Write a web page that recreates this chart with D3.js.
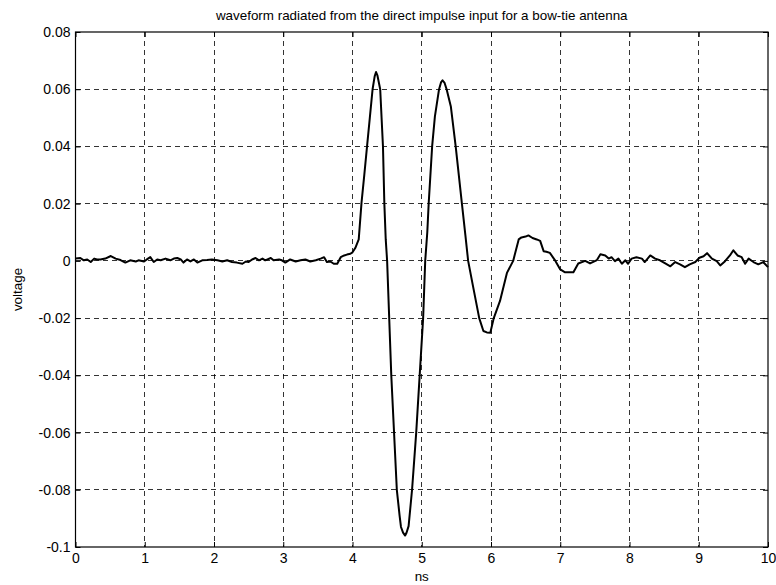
<!DOCTYPE html>
<html>
<head>
<meta charset="utf-8">
<script src="https://cdn.jsdelivr.net/npm/d3@7"></script>
<style>
  html, body { margin: 0; padding: 0; background: #fff; }
  svg { display: block; font-family: "Liberation Sans", Arial, Helvetica, sans-serif; }
</style>
</head>
<body>
<svg id="chart" width="776" height="585"></svg>
<script>
// Sample times (ns) and radiated voltage of the bow-tie antenna response
const timeNs = [
  0.00, 0.07, 0.12, 0.17, 0.22, 0.27, 0.31, 0.36, 0.43, 0.51, 0.58, 0.65, 0.72, 0.79, 0.87, 0.91, 0.99,
  1.03, 1.08, 1.13, 1.18, 1.23, 1.30, 1.37, 1.42, 1.47, 1.52, 1.56, 1.61, 1.66, 1.71, 1.76, 1.83, 1.90, 1.97,
  2.05, 2.12, 2.19, 2.26, 2.33, 2.41, 2.46, 2.50, 2.55, 2.60, 2.65, 2.70, 2.74, 2.82, 2.86, 2.94, 2.98,
  3.03, 3.10, 3.18, 3.25, 3.32, 3.39, 3.47, 3.54, 3.59, 3.63, 3.68, 3.73, 3.78, 3.83, 3.88, 3.92, 3.97, 4.00, 4.04,
  4.09, 4.13, 4.17, 4.21, 4.25, 4.29, 4.32, 4.34, 4.36, 4.40, 4.44, 4.46, 4.48, 4.50, 4.53, 4.56, 4.60, 4.64, 4.68, 4.70, 4.73, 4.76, 4.78, 4.81,
  4.86, 4.92, 4.97, 5.02, 5.05, 5.08, 5.10, 5.15, 5.19, 5.25, 5.28, 5.30, 5.33, 5.36, 5.42, 5.49, 5.58, 5.63, 5.67, 5.74, 5.83, 5.89, 5.94, 5.99,
  6.04, 6.13, 6.23, 6.32, 6.40, 6.44, 6.50, 6.54, 6.60, 6.66, 6.71, 6.76, 6.80, 6.85, 6.93, 7.00, 7.07, 7.19, 7.26, 7.36, 7.43, 7.53,
  7.58, 7.65, 7.70, 7.74, 7.79, 7.84, 7.89, 7.94, 7.98, 8.03, 8.10, 8.18, 8.22, 8.30, 8.37, 8.44, 8.51, 8.59, 8.66, 8.73, 8.80, 8.87, 8.95,
  9.01, 9.07, 9.12, 9.19, 9.26, 9.31, 9.38, 9.45, 9.50, 9.56, 9.62, 9.67, 9.72, 9.79, 9.86, 9.93, 10.00
];

const voltage = [
  0.0008, 0.0010, 0.0002, 0.0005, -0.0004, 0.0008, 0.0005, 0.0005, 0.0008, 0.0017, 0.0008, 0.0003, -0.0006, 0.0002, -0.0002, 0.0002, -0.0002,
  0.0005, 0.0013, -0.0004, 0.0005, 0.0002, 0.0008, 0.0002, 0.0008, 0.0010, 0.0005, -0.0006, 0.0005, -0.0002, 0.0005, -0.0006, 0.0002, 0.0003, 0.0005,
  0.0002, -0.0002, 0.0002, -0.0004, -0.0006, -0.0010, -0.0002, -0.0004, 0.0005, 0.0010, 0.0002, 0.0008, 0.0002, 0.0010, 0.0002, 0.0005, 0.0002,
  -0.0006, 0.0005, -0.0002, 0.0002, 0.0005, -0.0002, 0.0002, 0.0008, 0.0013, -0.0004, -0.0002, -0.0010, -0.0010, 0.0013, 0.0019, 0.0022, 0.0025, 0.0030, 0.0045,
  0.0075, 0.0203, 0.0300, 0.0400, 0.0500, 0.0600, 0.0645, 0.0660, 0.0648, 0.0600, 0.0400, 0.0200, 0.0075, 0.0000, -0.0200, -0.0400, -0.0600, -0.0800, -0.0890, -0.0930, -0.0950, -0.0960, -0.0950, -0.0927,
  -0.0800, -0.0600, -0.0400, -0.0200, 0.0000, 0.0100, 0.0200, 0.0400, 0.0505, 0.0600, 0.0625, 0.0631, 0.0622, 0.0599, 0.0540, 0.0400, 0.0200, 0.0090, 0.0000, -0.0088, -0.0200, -0.0245, -0.0250, -0.0251,
  -0.0200, -0.0140, -0.0042, 0.0000, 0.0075, 0.0082, 0.0085, 0.0089, 0.0080, 0.0075, 0.0070, 0.0034, 0.0032, 0.0028, 0.0000, -0.0030, -0.0040, -0.0040, -0.0009, 0.0000, -0.0009, 0.0003,
  0.0023, 0.0019, 0.0008, 0.0013, -0.0001, 0.0008, -0.0010, 0.0002, -0.0010, 0.0008, 0.0013, 0.0008, -0.0004, 0.0019, 0.0008, 0.0002, -0.0008, -0.0019, -0.0004, -0.0012, -0.0022, -0.0012, -0.0004,
  0.0011, 0.0016, 0.0027, 0.0008, -0.0001, -0.0016, -0.0001, 0.0019, 0.0037, 0.0019, 0.0013, -0.0010, 0.0008, -0.0004, -0.0012, -0.0004, -0.0022
];

const xTicks = [0, 1, 2, 3, 4, 5, 6, 7, 8, 9, 10];
const yTicks = [-0.1, -0.08, -0.06, -0.04, -0.02, 0, 0.02, 0.04, 0.06, 0.08];

const titleText = "waveform radiated from the direct impulse input for a bow-tie antenna";
const xLabelText = "ns";
const yLabelText = "voltage";

const svg = d3.select("#chart");
const W = 776, H = 585;
const margin = { left: 75.5, right: 8, top: 32, bottom: 38 };
const x0 = margin.left, x1 = W - margin.right;
const y0 = margin.top, y1 = H - margin.bottom;

svg.append("rect").attr("width", W).attr("height", H).attr("fill", "#fff");

const x = d3.scaleLinear().domain([0, 10]).range([x0, x1]);
const y = d3.scaleLinear().domain([-0.1, 0.08]).range([y1, y0]);

const fmtY = v => (v === 0 ? "0" : String(+v.toFixed(2)));

// dashed grid
const grid = svg.append("g").attr("stroke", "#000").attr("stroke-width", 0.8)
  .attr("stroke-dasharray", "5,4").attr("shape-rendering", "crispEdges");
grid.selectAll("line.gx").data(xTicks.slice(1, -1)).join("line")
  .attr("x1", d => x(d)).attr("x2", d => x(d)).attr("y1", y0).attr("y2", y1);
grid.selectAll("line.gy").data(yTicks.slice(1, -1)).join("line")
  .attr("y1", d => y(d)).attr("y2", d => y(d)).attr("x1", x0).attr("x2", x1);

// axes with inward ticks
const tickFont = 14;
const xAxis = svg.append("g").attr("transform", `translate(0,${y1})`)
  .call(d3.axisBottom(x).tickValues(xTicks).tickSizeInner(-5).tickSizeOuter(0).tickPadding(6).tickFormat(d3.format("d")));
const xAxisTop = svg.append("g").attr("transform", `translate(0,${y0})`)
  .call(d3.axisTop(x).tickValues(xTicks).tickSizeInner(-5).tickSizeOuter(0).tickFormat(""));
const yAxis = svg.append("g").attr("transform", `translate(${x0},0)`)
  .call(d3.axisLeft(y).tickValues(yTicks).tickSizeInner(-5).tickSizeOuter(0).tickPadding(5).tickFormat(fmtY));
const yAxisRight = svg.append("g").attr("transform", `translate(${x1},0)`)
  .call(d3.axisRight(y).tickValues(yTicks).tickSizeInner(-5).tickSizeOuter(0).tickFormat(""));

[xAxis, xAxisTop, yAxis, yAxisRight].forEach(g => {
  g.select(".domain").remove();
  g.selectAll("line").attr("stroke", "#000").attr("stroke-width", 1);
  g.selectAll("text").attr("font-size", tickFont).attr("fill", "#000")
    .attr("font-family", "'Liberation Sans', Arial, sans-serif");
});

// plot box
svg.append("rect").attr("x", x0).attr("y", y0).attr("width", x1 - x0).attr("height", y1 - y0)
  .attr("fill", "none").attr("stroke", "#000").attr("stroke-width", 1.2);

// waveform
const pts = timeNs.map((t, i) => [t, voltage[i]]);
svg.append("path").datum(pts)
  .attr("fill", "none").attr("stroke", "#000").attr("stroke-width", 2).attr("stroke-linejoin", "round")
  .attr("d", d3.line().x(d => x(d[0])).y(d => y(d[1])));

// labels
const labelFont = 13.4;
svg.append("text").attr("x", (x0 + x1) / 2).attr("y", 20).attr("text-anchor", "middle")
  .attr("font-size", labelFont).text(titleText);
svg.append("text").attr("x", (x0 + x1) / 2).attr("y", 581).attr("text-anchor", "middle")
  .attr("font-size", labelFont).text(xLabelText);
svg.append("text").attr("transform", `translate(22,${(y0 + y1) / 2}) rotate(-90)`).attr("text-anchor", "middle")
  .attr("font-size", labelFont).text(yLabelText);
</script>
</body>
</html>
